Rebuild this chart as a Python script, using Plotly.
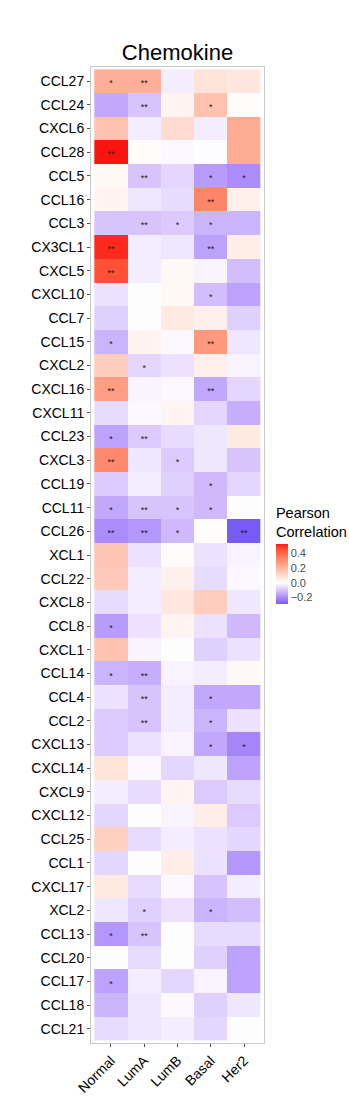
import numpy as np
import plotly.graph_objects as go

# Chemokine genes (top to bottom) and breast cancer subtypes
genes = ["CCL27", "CCL24", "CXCL6", "CCL28", "CCL5", "CCL16", "CCL3", "CX3CL1",
         "CXCL5", "CXCL10", "CCL7", "CCL15", "CXCL2", "CXCL16", "CXCL11", "CCL23",
         "CXCL3", "CCL19", "CCL11", "CCL26", "XCL1", "CCL22", "CXCL8", "CCL8",
         "CXCL1", "CCL14", "CCL4", "CCL2", "CXCL13", "CXCL14", "CXCL9", "CXCL12",
         "CCL25", "CCL1", "CXCL17", "XCL2", "CCL13", "CCL20", "CCL17", "CCL18", "CCL21"]
subtypes = ["Normal", "LumA", "LumB", "Basal", "Her2"]

# Pearson correlation per subtype (one value per gene, same order as genes)
normal = [0.22, -0.15, 0.17, 0.53, 0.02, 0.03, -0.10, 0.51, 0.45, -0.05, -0.08, -0.13,
          0.14, 0.27, -0.06, -0.16, 0.32, -0.09, -0.15, -0.20, 0.16, 0.15, -0.06, -0.17,
          0.17, -0.13, -0.05, -0.09, -0.09, 0.08, -0.03, -0.07, 0.13, -0.07, 0.06, -0.04,
          -0.18, 0.00, -0.16, -0.13, -0.06]
luma = [0.22, -0.10, -0.03, 0.005, -0.10, -0.04, -0.10, -0.03, -0.03, 0.00, 0.00, 0.03,
        -0.07, -0.02, -0.01, -0.09, -0.04, -0.03, -0.10, -0.18, -0.05, -0.03, -0.03, -0.05,
        -0.02, -0.14, -0.10, -0.10, -0.05, -0.01, -0.06, 0.00, -0.06, 0.00, -0.06, -0.08,
        -0.10, -0.06, -0.03, -0.04, -0.04]
lumb = [-0.03, 0.03, 0.10, -0.01, -0.07, -0.06, -0.09, -0.04, 0.02, 0.02, 0.06, -0.01,
        -0.05, -0.01, 0.03, -0.06, -0.09, -0.08, -0.10, -0.12, 0.01, 0.04, 0.07, 0.03,
        0.00, -0.02, -0.03, -0.03, -0.02, -0.07, 0.03, -0.02, -0.03, 0.05, -0.01, -0.05,
        0.00, 0.00, -0.07, -0.01, -0.03]
basal = [0.08, 0.17, -0.03, -0.005, -0.17, 0.33, -0.13, -0.16, -0.02, -0.11, 0.04, 0.28,
         0.04, -0.15, -0.07, -0.04, -0.04, -0.12, -0.12, 0.005, -0.05, -0.06, 0.14, -0.05,
         -0.08, -0.03, -0.15, -0.13, -0.15, -0.04, -0.09, 0.05, -0.05, -0.05, -0.10, -0.13,
         -0.06, -0.08, -0.02, -0.08, -0.07]
her2 = [0.07, 0.01, 0.23, 0.23, -0.20, 0.04, -0.13, 0.05, -0.11, -0.16, -0.08, -0.04,
        -0.02, -0.07, -0.14, 0.06, -0.10, -0.07, 0.00, -0.29, -0.02, -0.01, -0.04, -0.12,
        -0.05, 0.02, -0.15, -0.05, -0.21, -0.16, -0.06, -0.09, -0.07, -0.18, -0.03, -0.11,
        -0.06, -0.16, -0.16, -0.04, 0.00]

# Significance marks per subtype
sig_normal = ["*", "", "", "**", "", "", "", "**", "**", "", "", "*", "", "**", "", "*",
              "**", "", "*", "**", "", "", "", "*", "", "*", "", "", "", "", "", "",
              "", "", "", "", "*", "", "*", "", ""]
sig_luma = ["**", "**", "", "", "**", "", "**", "", "", "", "", "", "*", "", "", "**",
            "", "", "**", "**", "", "", "", "", "", "**", "**", "**", "", "", "", "",
            "", "", "", "*", "**", "", "", "", ""]
sig_lumb = ["", "", "", "", "", "", "*", "", "", "", "", "", "", "", "", "",
            "*", "", "*", "*", "", "", "", "", "", "", "", "", "", "", "", "",
            "", "", "", "", "", "", "", "", ""]
sig_basal = ["", "*", "", "", "*", "**", "*", "**", "", "*", "", "**", "", "**", "", "",
             "", "*", "*", "", "", "", "", "", "", "", "*", "*", "*", "", "", "",
             "", "", "", "*", "", "", "", "", ""]
sig_her2 = ["", "", "", "", "*", "", "", "", "", "", "", "", "", "", "", "",
            "", "", "", "**", "", "", "", "", "", "", "", "", "*", "", "", "",
            "", "", "", "", "", "", "", "", ""]

columns = [normal, luma, lumb, basal, her2]
sig_columns = [sig_normal, sig_luma, sig_lumb, sig_basal, sig_her2]

# ---- diverging colour scale interpolated in CIELAB space ----
def _to_linear(c):
    c = c / 255.0
    return np.where(c <= 0.04045, c / 12.92, ((c + 0.055) / 1.055) ** 2.4)

def _to_srgb(c):
    c = np.clip(c, 0, 1)
    v = np.where(c <= 0.0031308, 12.92 * c, 1.055 * c ** (1 / 2.4) - 0.055)
    return np.clip(np.round(v * 255), 0, 255).astype(int)

M = np.array([[0.4124, 0.3576, 0.1805], [0.2126, 0.7152, 0.0722], [0.0193, 0.1192, 0.9505]])
MINV = np.linalg.inv(M)
WHITE = np.array([0.95047, 1.0, 1.08883])

def rgb_to_lab(rgb):
    xyz = M @ _to_linear(np.array(rgb, float)) / WHITE
    f = np.where(xyz > 0.008856, np.cbrt(xyz), 7.787 * xyz + 16 / 116)
    return np.array([116 * f[1] - 16, 500 * (f[0] - f[1]), 200 * (f[1] - f[2])])

def lab_to_rgb(lab):
    fy = (lab[0] + 16) / 116
    f = np.array([fy + lab[1] / 500, fy, fy - lab[2] / 200])
    xyz = np.where(f ** 3 > 0.008856, f ** 3, (f - 16 / 116) / 7.787) * WHITE
    return _to_srgb(MINV @ xyz)

zmin, zmax = -0.29, 0.53
low_lab = rgb_to_lab((120, 90, 245))
mid_lab = rgb_to_lab((255, 255, 255))
high_lab = rgb_to_lab((250, 20, 15))

colorscale = []
for t in np.linspace(0, 1, 61):
    v = zmin + t * (zmax - zmin)
    if v < 0:
        lab = mid_lab + (low_lab - mid_lab) * (v / zmin)
    else:
        lab = mid_lab + (high_lab - mid_lab) * (v / zmax)
    r, g, b = lab_to_rgb(lab)
    colorscale.append([float(t), f"rgb({r},{g},{b})"])

z = [[columns[j][i] for j in range(len(subtypes))] for i in range(len(genes))]

fig = go.Figure()
fig.add_trace(go.Heatmap(
    z=z,
    x=list(range(len(subtypes))),
    y=list(range(len(genes))),
    zmin=zmin, zmax=zmax,
    colorscale=colorscale,
    xgap=0, ygap=0,
    colorbar=dict(
        title=dict(text="Pearson<br>Correlation", side="top",
                   font=dict(size=14.5, color="#000000", family="Liberation Sans, Arial, sans-serif")),
        thickness=12,
        lenmode="pixels", len=100,
        x=1.069, xanchor="left", xpad=0,
        y=(1043 - 604) / 976, yanchor="bottom", ypad=0,
        outlinewidth=0,
        ticks="",
        tickvals=[-0.2, 0.0, 0.2, 0.4],
        ticktext=["\u22120.2", "0.0", "0.2", "0.4"],
        tickfont=dict(size=11, color="#4d4d4d", family="Liberation Sans, Arial, sans-serif"),
    ),
    hoverinfo="skip",
))

# significance stars
sx, sy, st = [], [], []
for j, col in enumerate(sig_columns):
    for i, s in enumerate(col):
        if s:
            sx.append(j)
            sy.append(i + 0.12)
            st.append(s)
fig.add_trace(go.Scatter(
    x=sx, y=sy, text=st, mode="text",
    textfont=dict(size=9, color="#1a1a1a", family="Liberation Sans, Arial, sans-serif"),
    showlegend=False, hoverinfo="skip",
))

axis_font = dict(size=14, color="#000000", family="Liberation Sans, Arial, sans-serif")
fig.update_layout(
    width=349, height=1097,
    margin=dict(l=91, r=85, t=67, b=54, autoexpand=False),
    paper_bgcolor="white", plot_bgcolor="white",
    title=dict(text="Chemokine", x=(91 + 264) / 2 / 349, xanchor="center",
               y=1 - 52 / 1097, yanchor="middle",
               font=dict(size=22, color="#000000", family="Liberation Sans, Arial, sans-serif")),
    xaxis=dict(
        range=[-0.6, len(subtypes) - 0.4],
        tickvals=list(range(len(subtypes))), ticktext=subtypes,
        tickangle=-45, tickfont=axis_font,
        ticks="outside", ticklen=3, tickcolor="#4d4d4d",
        showgrid=False, zeroline=False,
        showline=True, mirror=True, linecolor="#c8c8c8", linewidth=1,
    ),
    yaxis=dict(
        range=[len(genes) - 0.4, -0.6],
        tickvals=list(range(len(genes))), ticktext=genes,
        tickfont=axis_font,
        ticks="outside", ticklen=3, tickcolor="#4d4d4d",
        showgrid=False, zeroline=False,
        showline=True, mirror=True, linecolor="#c8c8c8", linewidth=1,
    ),
)

fig.write_html("out.html")
